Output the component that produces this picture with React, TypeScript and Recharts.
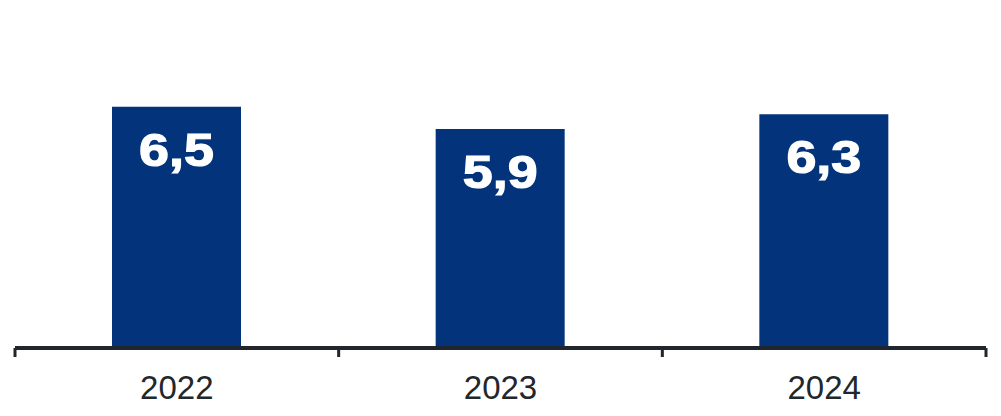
import React from 'react';
import { BarChart, Bar, XAxis, YAxis, LabelList } from 'recharts';

const years = ['2022', '2023', '2024'];
const values = [6.5, 5.9, 6.3];

const BAR_COLOR = '#02337b';
const AXIS_COLOR = '#1f262d';

const chartData = years.map((year, i) => ({ year, value: values[i] }));

// Etiqueta del eje X con marcas en los limites de cada categoria
function YearTick(props: any) {
  const { x, y, payload, index, visibleTicksCount } = props;
  const half = payload && payload.offset ? payload.offset : 0;
  const isLast = index === (visibleTicksCount ?? years.length) - 1;
  return (
    <g>
      <line x1={x - half} x2={x - half} y1={y} y2={y + 9} stroke={AXIS_COLOR} strokeWidth={3} />
      {isLast && (
        <line x1={x + half} x2={x + half} y1={y} y2={y + 9} stroke={AXIS_COLOR} strokeWidth={3} />
      )}
      <text
        x={x}
        y={y + 51}
        textAnchor="middle"
        fill="#22272c"
        fontSize={33}
        fontFamily="'Liberation Sans', Arial, sans-serif"
      >
        {payload.value}
      </text>
    </g>
  );
}

// Valor dentro de la barra, con coma decimal
function ValueLabel(props: any) {
  const { x, y, width, value } = props;
  const cx = x + width / 2;
  const text = Number(value).toFixed(1).replace('.', ',');
  return (
    <text
      transform={`translate(${cx},${y + 59}) scale(1.17,1)`}
      textAnchor="middle"
      fill="#ffffff"
      stroke="#ffffff"
      strokeWidth={1.2}
      fontSize={46}
      fontWeight="bold"
      fontFamily="'Liberation Sans', Arial, sans-serif"
    >
      {text}
    </text>
  );
}

export default function App() {
  return (
    <div style={{ position: 'absolute', left: 0, top: 0, width: 1001, height: 416, background: '#fff' }}>
      <BarChart
        width={1001}
        height={416}
        data={chartData}
        margin={{ top: 14, right: 15, bottom: 0, left: 15 }}
      >
        <XAxis
          dataKey="year"
          height={68}
          interval={0}
          tickLine={false}
          tickSize={0}
          tickMargin={0}
          axisLine={{ stroke: AXIS_COLOR, strokeWidth: 4 }}
          tick={<YearTick />}
        />
        <YAxis hide domain={[0, 9]} />
        <Bar dataKey="value" fill={BAR_COLOR} barSize={129} isAnimationActive={false}>
          <LabelList dataKey="value" content={<ValueLabel />} />
        </Bar>
      </BarChart>
    </div>
  );
}
